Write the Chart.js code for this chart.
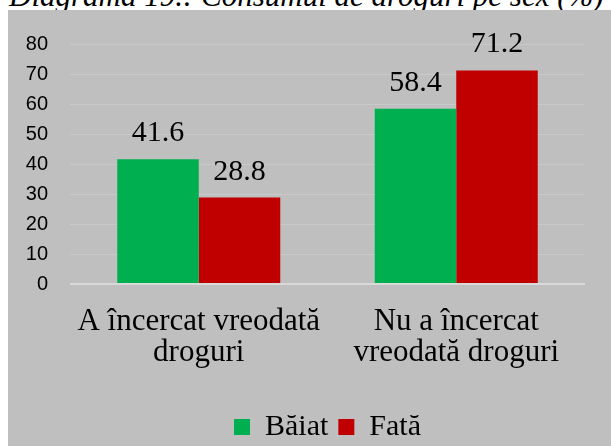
<!DOCTYPE html>
<html>
<head>
<meta charset="utf-8">
<script src="https://cdn.jsdelivr.net/npm/chart.js@4/dist/chart.umd.min.js"></script>
<style>
  html, body { margin: 0; padding: 0; background: #ffffff; width: 611px; height: 446px; overflow: hidden; position: relative; }
  #title { position: absolute; left: 9px; top: -20px; font-family: "Liberation Serif", "Times New Roman", serif; font-style: italic; font-size: 31px; line-height: 31px; color: #000; white-space: nowrap; }
  #box { position: absolute; left: 8px; top: 10px; width: 603px; height: 442px; background: #bfbfbf; }
  canvas { display: block; }
</style>
</head>
<body>
<div id="title">Diagrama 19.: Consumul de droguri pe sex (%)</div>
<div id="box"><canvas id="c" width="603" height="442" style="width:603px;height:442px"></canvas></div>
<script>
const categories = [['A încercat vreodată', 'droguri'], ['Nu a încercat', 'vreodată droguri']];
const seriesNames = ['Băiat', 'Fată'];
const baiatValues = [41.6, 58.4];
const fataValues = [28.8, 71.2];
const yMin = 0;
const yMax = 80;
const yStep = 10;

const valueLabels = {
  id: 'valueLabels',
  afterDatasetsDraw(chart) {
    const ctx = chart.ctx;
    ctx.save();
    ctx.font = '30px "Liberation Serif", "Times New Roman", serif';
    ctx.fillStyle = '#000';
    ctx.textAlign = 'center';
    ctx.textBaseline = 'alphabetic';
    chart.data.datasets.forEach((ds, di) => {
      const meta = chart.getDatasetMeta(di);
      meta.data.forEach((el, i) => {
        ctx.fillText(ds.data[i].toFixed(1), el.x, el.y - 18);
      });
    });
    ctx.restore();
  }
};

new Chart(document.getElementById('c'), {
  type: 'bar',
  data: {
    labels: categories,
    datasets: [
      { label: seriesNames[0], data: baiatValues, backgroundColor: '#00b050', borderWidth: 0 },
      { label: seriesNames[1], data: fataValues, backgroundColor: '#c00000', borderWidth: 0 }
    ]
  },
  options: {
    responsive: false,
    animation: false,
    devicePixelRatio: 1,
    categoryPercentage: 0.633,
    barPercentage: 1,
    layout: { padding: { left: 0, right: 0, top: 28, bottom: 0 } },
    plugins: {
      title: { display: false },
      tooltip: { enabled: false },
      legend: {
        display: true,
        position: 'bottom',
        fullSize: false,
        labels: {
          boxWidth: 16,
          boxHeight: 16,
          padding: 10,
          color: '#000',
          font: { family: '"Liberation Serif", "Times New Roman", serif', size: 30 }
        }
      }
    },
    scales: {
      x: {
        grid: { display: false, drawTicks: false },
        border: { display: false },
        ticks: {
          padding: 22,
          color: '#000',
          maxRotation: 0,
          autoSkip: false,
          font: { family: '"Liberation Serif", "Times New Roman", serif', size: 31, lineHeight: 1.0 }
        },
        afterFit: (s) => { s.height = 118; }
      },
      y: {
        min: yMin,
        max: yMax,
        grid: {
          drawTicks: false,
          color: (c) => (c.tick && c.tick.value === 0) ? '#d9d9d9' : '#c9c9c9',
          lineWidth: (c) => (c.tick && c.tick.value === 0) ? 2 : 1
        },
        border: { display: false },
        ticks: {
          stepSize: yStep,
          padding: 22,
          color: '#000',
          font: { family: '"Liberation Sans", Arial, sans-serif', size: 20 }
        },
        afterFit: (s) => { s.width = 62; }
      },
      y2: {
        position: 'right',
        display: true,
        grid: { display: false, drawTicks: false },
        border: { display: false },
        ticks: { display: false },
        afterFit: (s) => { s.width = 26; }
      }
    }
  },
  plugins: [valueLabels]
});
</script>
</body>
</html>
